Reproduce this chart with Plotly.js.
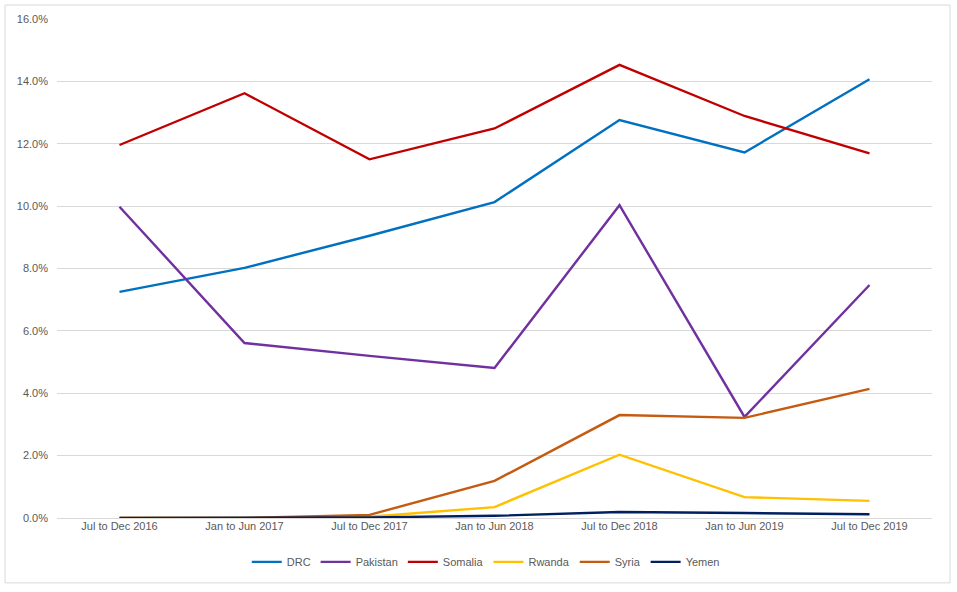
<!DOCTYPE html>
<html>
<head>
<meta charset="utf-8">
<script src="https://cdn.plot.ly/plotly-3.0.1.min.js"></script>
<style>html,body{margin:0;padding:0;background:#fff;}#chart{width:957px;height:592px;}</style>
</head>
<body>
<div id="chart"></div>
<script>
const periods = ["Jul to Dec 2016","Jan to Jun 2017","Jul to Dec 2017","Jan to Jun 2018","Jul to Dec 2018","Jan to Jun 2019","Jul to Dec 2019"];
const drc      = [7.25, 8.02, 9.05, 10.13, 12.76, 11.72, 14.07];
const pakistan = [9.98, 5.61, 5.20, 4.81, 10.03, 3.24, 7.47];
const somalia  = [11.96, 13.62, 11.50, 12.49, 14.53, 12.89, 11.69];
const rwanda   = [0.0, 0.0, 0.04, 0.35, 2.03, 0.67, 0.55];
const syria    = [0.0, 0.0, 0.10, 1.19, 3.30, 3.21, 4.14];
const yemen    = [0.0, 0.0, 0.02, 0.07, 0.19, 0.16, 0.12];

const seriesNames = ["DRC","Pakistan","Somalia","Rwanda","Syria","Yemen"];
const seriesData = [drc, pakistan, somalia, rwanda, syria, yemen];
const colors = ["#0070C0","#7030A0","#C00000","#FFC000","#C55A11","#002060"];

const traces = seriesNames.map((n,i)=>({
  type:'scatter', mode:'lines', name:n, x:periods, y:seriesData[i].map(v=>v/100),
  line:{color:colors[i], width:2.4}
}));

const layout = {
  width:957, height:592,
  margin:{l:57, r:25, t:19, b:74},
  paper_bgcolor:'#ffffff', plot_bgcolor:'#ffffff',
  font:{family:'"Liberation Sans Narrow", "Liberation Sans", Arial, sans-serif', size:11, color:'#595959'},
  showlegend:true,
  legend:{orientation:'h', x:0.49, xanchor:'center', y:-0.088, yanchor:'middle', font:{size:11, color:'#595959'}, itemwidth:30, tracegroupgap:0},
  xaxis:{type:'category', range:[-0.5,6.5], showgrid:false, zeroline:false, showline:false, ticks:'', tickfont:{size:11, color:'#595959'}, fixedrange:true},
  yaxis:{range:[0,0.16], dtick:0.02, tickformat:'.1%', showgrid:true, gridcolor:'#d9d9d9', gridwidth:1, zeroline:true, zerolinecolor:'#d9d9d9', showline:false, ticks:'', ticklabelstandoff:8, tickfont:{size:11, color:'#595959'}, fixedrange:true},
  shapes:[{type:'rect', xref:'paper', yref:'paper', x0:-0.0594, x1:1.0206, y0:-0.130, y1:1.028, line:{color:'#d9d9d9', width:1}, fillcolor:'rgba(0,0,0,0)', layer:'below'}]
};

Plotly.newPlot('chart', traces, layout, {displayModeBar:false, staticPlot:true});
</script>
</body>
</html>
